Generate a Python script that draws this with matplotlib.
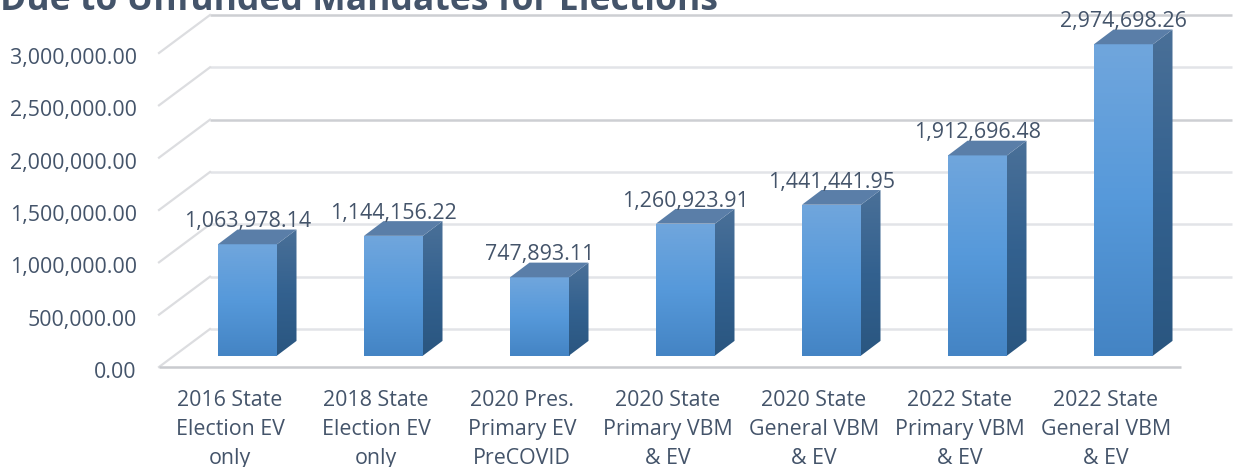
import numpy as np
import matplotlib
matplotlib.use("Agg")
import matplotlib.pyplot as plt
from matplotlib.colors import LinearSegmentedColormap
from matplotlib.patches import Polygon
from matplotlib.transforms import Affine2D

title = "Due to Unfunded Mandates for Elections"
categories = ["2016 State\nElection EV\nonly", "2018 State\nElection EV\nonly",
              "2020 Pres.\nPrimary EV\nPreCOVID", "2020 State\nPrimary VBM\n& EV",
              "2020 State\nGeneral VBM\n& EV", "2022 State\nPrimary VBM\n& EV",
              "2022 State\nGeneral VBM\n& EV"]
values = [1063978.14, 1144156.22, 747893.11, 1260923.91, 1441441.95, 1912696.48, 2974698.26]
yticks = [0, 500000, 1000000, 1500000, 2000000, 2500000, 3000000]

W, H = 1233, 467
TXT = "#44546A"
plt.rcParams['font.family'] = ['Open Sans', 'DejaVu Sans']
fig = plt.figure(figsize=(W/100, H/100), dpi=100)
L, R, T, B = 159, 1181, 53, 367
ax = fig.add_axes([L/W, 1-B/H, (R-L)/W, (B-T)/H])
xl = [-71/146, 7-71/146]
ax.set_xlim(*xl)
ax.set_ylim(0, 3000000)
for s in ax.spines.values():
    s.set_visible(False)
x = np.arange(len(values))
ax.set_xticks(x, categories)
ax.set_yticks(yticks, [f"{v:,.2f}" for v in yticks])
ax.tick_params(axis='both', length=0, labelcolor=TXT, labelsize=15.4)
ax.tick_params(axis='y', pad=16)
ax.tick_params(axis='x', pad=16.5)
for t in ax.get_xticklabels():
    t.set_linespacing(1.5)
for t in ax.get_yticklabels():
    t.set_transform(t.get_transform() + Affine2D().translate(0, -3))

back = ax.transData + Affine2D().translate(51, 38)
d = (51/146, 38*3000000/314)
for v in yticks:
    c = "#CDCFD3" if v in (3000000, 2000000) else "#E2E4E8"
    ax.plot(xl, [v, v], transform=back, color=c, lw=1.8, zorder=1, clip_on=False, solid_capstyle='butt')
    ax.plot([xl[0], xl[0]+d[0]], [v, v+d[1]], color="#DCDDE0", lw=1.6, zorder=1, clip_on=False)
ax.plot(xl, [0, 0], color="#C9CBCF", lw=1.8, zorder=2, clip_on=False, solid_capstyle='butt')

front_c = LinearSegmentedColormap.from_list('f', ["#4484C4", "#5699DA", "#70A6DD"])
side_c = LinearSegmentedColormap.from_list('s', ["#2A5680", "#33618F", "#4A7098"])
grad = np.linspace(1, 0, 256).reshape(-1, 1)

bw = 59/146
ddx, ddy = 19.5/146, 14.7*3000000/314
shift = ax.transData + Affine2D().translate(17.5, 11.4)
for xi, v in zip(x, values):
    x0, x1 = xi-bw/2, xi+bw/2
    ax.imshow(grad, cmap=front_c, extent=[x0, x1, 0, v], aspect='auto', transform=shift, zorder=3, clip_on=False)
    im2 = ax.imshow(grad, cmap=side_c, extent=[x1, x1+ddx, 0, v+ddy], aspect='auto', transform=shift, zorder=3)
    clip = Polygon([(x1, 0), (x1+ddx, ddy), (x1+ddx, v+ddy), (x1, v)], transform=shift, fc='none', ec='none', clip_on=False)
    ax.add_patch(clip)
    im2.set_clip_box(fig.bbox)
    im2.set_clip_path(clip)
    ax.add_patch(Polygon([(x0, v), (x1, v), (x1+ddx, v+ddy), (x0+ddx, v+ddy)], transform=shift,
                         fc="#5A7EA8", ec="none", zorder=3, clip_on=False))
    ax.text(xi, v, f"{v:,.2f}", transform=shift + Affine2D().translate(0, 22.5), ha='center', va='center',
            color=TXT, fontsize=15.4, zorder=5, clip_on=False)
ax.set_xlim(*xl)
ax.set_ylim(0, 3000000)
fig.text(0, 1-10/H, title, color=TXT, fontsize=25.6, fontweight='bold', ha='left', va='baseline')
fig.savefig("out.png", dpi=100, facecolor='white')
